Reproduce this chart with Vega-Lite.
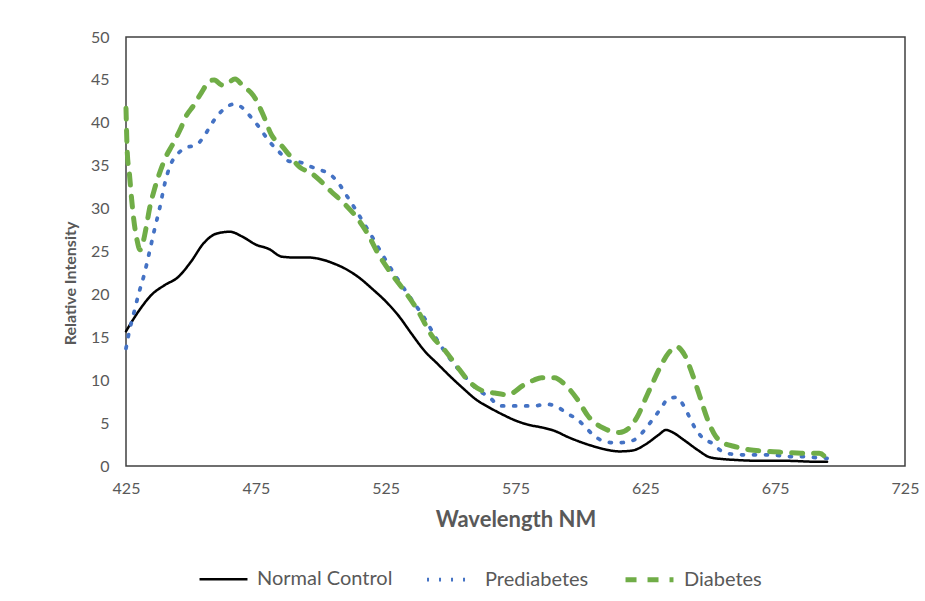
{
  "$schema": "https://vega.github.io/schema/vega-lite/v6.json",
  "autosize": {"type": "none"},
  "padding": {"left": 126, "top": 37, "right": 20, "bottom": 135},
  "width": 779,
  "height": 429,
  "background": "white",
  "config": {
    "font": "Lato",
    "view": {"stroke": "#404040", "strokeWidth": 1.5},
    "axis": {"grid": false, "ticks": false, "domain": false, "labelColor": "#595959", "labelFontSize": 16, "titleColor": "#595959", "titleFontWeight": "bold"},
    "legend": {"orient": "none", "legendX": 72, "legendY": 516, "direction": "horizontal", "symbolType": "stroke", "symbolSize": 2300, "labelFontSize": 20, "labelColor": "#595959", "columnPadding": 26, "labelOffset": 8}
  },
  "data": {"values": [
    {"s":"Normal Control","nm":425,"v":15.7},{"s":"Normal Control","nm":430,"v":18.1},{"s":"Normal Control","nm":435,"v":20.0},{"s":"Normal Control","nm":440,"v":21.1},{"s":"Normal Control","nm":445,"v":22.0},{"s":"Normal Control","nm":450,"v":23.8},{"s":"Normal Control","nm":455,"v":26.0},{"s":"Normal Control","nm":460,"v":27.1},{"s":"Normal Control","nm":465,"v":27.3},{"s":"Normal Control","nm":470,"v":26.7},{"s":"Normal Control","nm":475,"v":25.8},{"s":"Normal Control","nm":480,"v":25.3},{"s":"Normal Control","nm":485,"v":24.4},{"s":"Normal Control","nm":490,"v":24.3},{"s":"Normal Control","nm":495,"v":24.3},{"s":"Normal Control","nm":500,"v":24.1},{"s":"Normal Control","nm":505,"v":23.6},{"s":"Normal Control","nm":510,"v":22.9},{"s":"Normal Control","nm":515,"v":21.9},{"s":"Normal Control","nm":520,"v":20.6},{"s":"Normal Control","nm":525,"v":19.2},{"s":"Normal Control","nm":530,"v":17.5},{"s":"Normal Control","nm":535,"v":15.4},{"s":"Normal Control","nm":540,"v":13.4},{"s":"Normal Control","nm":545,"v":11.9},{"s":"Normal Control","nm":550,"v":10.4},{"s":"Normal Control","nm":555,"v":9.0},{"s":"Normal Control","nm":560,"v":7.7},{"s":"Normal Control","nm":565,"v":6.8},{"s":"Normal Control","nm":570,"v":6.0},{"s":"Normal Control","nm":575,"v":5.3},{"s":"Normal Control","nm":580,"v":4.8},{"s":"Normal Control","nm":585,"v":4.5},{"s":"Normal Control","nm":590,"v":4.1},{"s":"Normal Control","nm":595,"v":3.4},{"s":"Normal Control","nm":600,"v":2.8},{"s":"Normal Control","nm":605,"v":2.3},{"s":"Normal Control","nm":610,"v":1.9},{"s":"Normal Control","nm":615,"v":1.7},{"s":"Normal Control","nm":620,"v":1.8},{"s":"Normal Control","nm":625,"v":2.5},{"s":"Normal Control","nm":630,"v":3.6},{"s":"Normal Control","nm":633,"v":4.2},{"s":"Normal Control","nm":635,"v":4.0},{"s":"Normal Control","nm":640,"v":3.0},{"s":"Normal Control","nm":645,"v":1.9},{"s":"Normal Control","nm":650,"v":1.0},{"s":"Normal Control","nm":655,"v":0.8},{"s":"Normal Control","nm":660,"v":0.7},{"s":"Normal Control","nm":670,"v":0.6},{"s":"Normal Control","nm":680,"v":0.6},{"s":"Normal Control","nm":690,"v":0.5},{"s":"Normal Control","nm":695,"v":0.5},
    {"s":"Prediabetes","nm":425,"v":13.7},{"s":"Prediabetes","nm":426,"v":15.3},{"s":"Prediabetes","nm":428,"v":17.8},{"s":"Prediabetes","nm":430,"v":20.2},{"s":"Prediabetes","nm":432,"v":22.3},{"s":"Prediabetes","nm":434,"v":24.9},{"s":"Prediabetes","nm":436,"v":27.6},{"s":"Prediabetes","nm":438,"v":30.1},{"s":"Prediabetes","nm":440,"v":33.0},{"s":"Prediabetes","nm":442,"v":35.0},{"s":"Prediabetes","nm":445,"v":36.4},{"s":"Prediabetes","nm":448,"v":37.1},{"s":"Prediabetes","nm":452,"v":37.4},{"s":"Prediabetes","nm":455,"v":38.4},{"s":"Prediabetes","nm":458,"v":39.9},{"s":"Prediabetes","nm":461,"v":41.1},{"s":"Prediabetes","nm":464,"v":41.9},{"s":"Prediabetes","nm":467,"v":42.2},{"s":"Prediabetes","nm":470,"v":41.7},{"s":"Prediabetes","nm":473,"v":40.7},{"s":"Prediabetes","nm":476,"v":39.6},{"s":"Prediabetes","nm":480,"v":37.9},{"s":"Prediabetes","nm":484,"v":36.6},{"s":"Prediabetes","nm":488,"v":35.5},{"s":"Prediabetes","nm":492,"v":35.4},{"s":"Prediabetes","nm":496,"v":34.9},{"s":"Prediabetes","nm":500,"v":34.5},{"s":"Prediabetes","nm":504,"v":33.9},{"s":"Prediabetes","nm":507,"v":32.9},{"s":"Prediabetes","nm":510,"v":31.5},{"s":"Prediabetes","nm":513,"v":30.1},{"s":"Prediabetes","nm":516,"v":28.6},{"s":"Prediabetes","nm":520,"v":26.6},{"s":"Prediabetes","nm":525,"v":24.0},{"s":"Prediabetes","nm":530,"v":21.6},{"s":"Prediabetes","nm":535,"v":19.4},{"s":"Prediabetes","nm":540,"v":17.2},{"s":"Prediabetes","nm":545,"v":14.6},{"s":"Prediabetes","nm":550,"v":12.4},{"s":"Prediabetes","nm":555,"v":10.6},{"s":"Prediabetes","nm":560,"v":9.0},{"s":"Prediabetes","nm":565,"v":8.0},{"s":"Prediabetes","nm":569,"v":7.0},{"s":"Prediabetes","nm":575,"v":7.0},{"s":"Prediabetes","nm":582,"v":7.0},{"s":"Prediabetes","nm":587,"v":7.2},{"s":"Prediabetes","nm":591,"v":6.9},{"s":"Prediabetes","nm":595,"v":6.1},{"s":"Prediabetes","nm":599,"v":5.4},{"s":"Prediabetes","nm":602,"v":4.5},{"s":"Prediabetes","nm":605,"v":3.6},{"s":"Prediabetes","nm":609,"v":2.9},{"s":"Prediabetes","nm":614,"v":2.7},{"s":"Prediabetes","nm":618,"v":2.8},{"s":"Prediabetes","nm":622,"v":3.3},{"s":"Prediabetes","nm":625,"v":4.3},{"s":"Prediabetes","nm":628,"v":5.5},{"s":"Prediabetes","nm":631,"v":6.7},{"s":"Prediabetes","nm":634,"v":7.9},{"s":"Prediabetes","nm":637,"v":8.0},{"s":"Prediabetes","nm":640,"v":6.9},{"s":"Prediabetes","nm":642,"v":5.7},{"s":"Prediabetes","nm":644,"v":4.5},{"s":"Prediabetes","nm":647,"v":3.3},{"s":"Prediabetes","nm":651,"v":2.6},{"s":"Prediabetes","nm":654,"v":1.8},{"s":"Prediabetes","nm":658,"v":1.4},{"s":"Prediabetes","nm":663,"v":1.3},{"s":"Prediabetes","nm":672,"v":1.3},{"s":"Prediabetes","nm":677,"v":1.2},{"s":"Prediabetes","nm":681,"v":1.1},{"s":"Prediabetes","nm":686,"v":1.1},{"s":"Prediabetes","nm":690,"v":1.0},{"s":"Prediabetes","nm":695,"v":0.9},
    {"s":"Diabetes","nm":425,"v":41.7},{"s":"Diabetes","nm":425.5,"v":36.5},{"s":"Diabetes","nm":426.3,"v":34.1},{"s":"Diabetes","nm":427.2,"v":31.0},{"s":"Diabetes","nm":428,"v":28.7},{"s":"Diabetes","nm":429.2,"v":26.4},{"s":"Diabetes","nm":430.4,"v":25.2},{"s":"Diabetes","nm":431.5,"v":26.0},{"s":"Diabetes","nm":433,"v":28.2},{"s":"Diabetes","nm":434,"v":29.9},{"s":"Diabetes","nm":436,"v":32.3},{"s":"Diabetes","nm":438,"v":34.2},{"s":"Diabetes","nm":440,"v":35.8},{"s":"Diabetes","nm":443,"v":37.5},{"s":"Diabetes","nm":446,"v":39.3},{"s":"Diabetes","nm":448,"v":40.7},{"s":"Diabetes","nm":451,"v":42.0},{"s":"Diabetes","nm":454,"v":43.5},{"s":"Diabetes","nm":457,"v":44.8},{"s":"Diabetes","nm":459,"v":45.0},{"s":"Diabetes","nm":462,"v":44.4},{"s":"Diabetes","nm":464,"v":44.6},{"s":"Diabetes","nm":467,"v":45.1},{"s":"Diabetes","nm":470,"v":44.3},{"s":"Diabetes","nm":474,"v":43.2},{"s":"Diabetes","nm":478,"v":40.8},{"s":"Diabetes","nm":481,"v":38.6},{"s":"Diabetes","nm":485,"v":37.3},{"s":"Diabetes","nm":488,"v":36.2},{"s":"Diabetes","nm":492,"v":34.8},{"s":"Diabetes","nm":496,"v":34.2},{"s":"Diabetes","nm":500,"v":33.2},{"s":"Diabetes","nm":504,"v":32.0},{"s":"Diabetes","nm":509,"v":30.6},{"s":"Diabetes","nm":514,"v":28.9},{"s":"Diabetes","nm":518,"v":27.1},{"s":"Diabetes","nm":522,"v":24.8},{"s":"Diabetes","nm":527,"v":22.5},{"s":"Diabetes","nm":532,"v":20.5},{"s":"Diabetes","nm":537,"v":18.3},{"s":"Diabetes","nm":543,"v":15.1},{"s":"Diabetes","nm":548,"v":13.4},{"s":"Diabetes","nm":552,"v":11.8},{"s":"Diabetes","nm":557,"v":9.9},{"s":"Diabetes","nm":562,"v":8.8},{"s":"Diabetes","nm":567,"v":8.5},{"s":"Diabetes","nm":572,"v":8.3},{"s":"Diabetes","nm":578,"v":9.4},{"s":"Diabetes","nm":582,"v":10.0},{"s":"Diabetes","nm":585,"v":10.3},{"s":"Diabetes","nm":590,"v":10.3},{"s":"Diabetes","nm":594,"v":9.5},{"s":"Diabetes","nm":599,"v":7.7},{"s":"Diabetes","nm":603,"v":5.8},{"s":"Diabetes","nm":609,"v":4.4},{"s":"Diabetes","nm":615,"v":3.9},{"s":"Diabetes","nm":619,"v":4.5},{"s":"Diabetes","nm":622,"v":5.8},{"s":"Diabetes","nm":625,"v":7.8},{"s":"Diabetes","nm":628,"v":9.8},{"s":"Diabetes","nm":631,"v":11.7},{"s":"Diabetes","nm":634,"v":13.2},{"s":"Diabetes","nm":637,"v":13.9},{"s":"Diabetes","nm":640,"v":13.0},{"s":"Diabetes","nm":643,"v":10.8},{"s":"Diabetes","nm":646,"v":8.1},{"s":"Diabetes","nm":649,"v":5.4},{"s":"Diabetes","nm":652,"v":3.5},{"s":"Diabetes","nm":655,"v":2.7},{"s":"Diabetes","nm":659,"v":2.3},{"s":"Diabetes","nm":665,"v":1.9},{"s":"Diabetes","nm":672,"v":1.7},{"s":"Diabetes","nm":678,"v":1.6},{"s":"Diabetes","nm":685,"v":1.5},{"s":"Diabetes","nm":692,"v":1.5},{"s":"Diabetes","nm":694,"v":1.1},{"s":"Diabetes","nm":695,"v":0.1}
  ]},
  "mark": {"type": "line", "interpolate": "monotone", "strokeCap": "round", "strokeJoin": "round"},
  "encoding": {
    "x": {"field": "nm", "type": "quantitative", "scale": {"domain": [425, 725], "nice": false, "zero": false},
      "axis": {"values": [425, 475, 525, 575, 625, 675, 725], "labelFlush": false, "title": "Wavelength NM", "titleFontSize": 22, "labelPadding": 14, "titlePadding": 13}},
    "y": {"field": "v", "type": "quantitative", "scale": {"domain": [0, 50], "nice": false},
      "axis": {"values": [0, 5, 10, 15, 20, 25, 30, 35, 40, 45, 50], "title": "Relative Intensity", "titleFontSize": 16, "titleY": 246, "labelPadding": 17, "titlePadding": 12}},
    "color": {"field": "s", "type": "nominal", "title": null,
      "scale": {"domain": ["Normal Control", "Prediabetes", "Diabetes"], "range": ["#000000", "#4472C4", "#70AD47"]}},
    "strokeDash": {"field": "s", "type": "nominal", "title": null,
      "scale": {"domain": ["Normal Control", "Prediabetes", "Diabetes"], "range": [[1, 0], [2, 10], [11, 11]]}},
    "strokeWidth": {"field": "s", "type": "nominal", "title": null,
      "scale": {"domain": ["Normal Control", "Prediabetes", "Diabetes"], "range": [2.5, 5, 4]}}
  }
}
